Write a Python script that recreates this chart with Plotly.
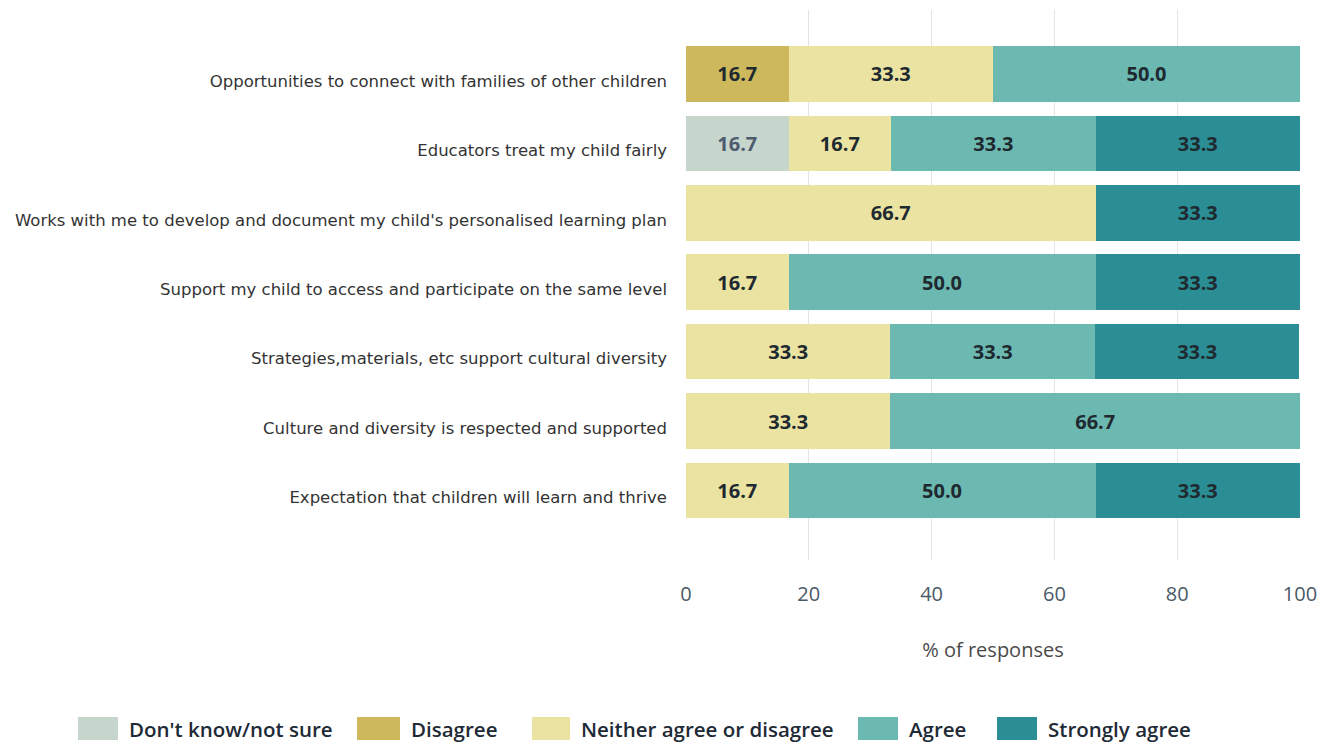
import plotly.graph_objects as go

categories = [
    "Opportunities to connect with families of other children",
    "Educators treat my child fairly",
    "Works with me to develop and document my child's personalised learning plan",
    "Support my child to access and participate on the same level",
    "Strategies,materials, etc support cultural diversity",
    "Culture and diversity is respected and supported",
    "Expectation that children will learn and thrive",
]
dont_know = [None, 16.7, None, None, None, None, None]
disagree = [16.7, None, None, None, None, None, None]
neither = [33.3, 16.7, 66.7, 16.7, 33.3, 33.3, 16.7]
agree = [50.0, 33.3, None, 50.0, 33.3, 66.7, 50.0]
strongly = [None, 33.3, 33.3, 33.3, 33.3, None, 33.3]
x_ticks = [0, 20, 40, 60, 80, 100]

series = [
    ("Don't know/not sure", dont_know, "#c6d6cd", "#4d5b6e"),
    ("Disagree", disagree, "#cdb95c", "#1e2a30"),
    ("Neither agree or disagree", neither, "#ebe3a2", "#1e2a30"),
    ("Agree", agree, "#6cb9b2", "#1e2a30"),
    ("Strongly agree", strongly, "#2b8e94", "#1e2a30"),
]

OFF = 8  # page body margin
W, H = 1338, 745
ML, MR, MT, MB = 686 - OFF, 38 + OFF, 10 - OFF, 185 + OFF
PW, PH = W - ML - MR, H - MT - MB

fig = go.Figure()
for name, vals, color, tcolor in series:
    fig.add_trace(go.Bar(
        y=categories, x=vals, name=name, orientation="h",
        marker=dict(color=color, line=dict(width=0)),
        texttemplate="%{x:.1f}", textposition="inside", insidetextanchor="middle",
        textfont=dict(family="Open Sans", size=20, color=tcolor, weight="bold"),
        constraintext="none", showlegend=False,
    ))

# custom legend (large swatches like the reference)
legend_box_left = [78, 357, 532, 858, 997]
legend_box_w = [40, 43, 38, 40, 40]
px = lambda v: (v - OFF - ML) / PW
py = lambda v: (H - MB - (v - OFF)) / PH
for (name, _, color, _), bx, bw in zip(series, legend_box_left, legend_box_w):
    fig.add_shape(type="rect", xref="paper", yref="paper",
                  x0=px(bx), x1=px(bx + bw), y0=py(740), y1=py(717),
                  fillcolor=color, line=dict(width=0))
    fig.add_annotation(xref="paper", yref="paper", x=px(bx + bw + 9), y=py(729),
                       xanchor="left", yanchor="middle", showarrow=False, text=name,
                       font=dict(family="Open Sans", size=20.5, color="#1e2a36", weight=600))

fig.update_layout(
    barmode="stack", bargap=0.2,
    width=W, height=H,
    margin=dict(l=ML, r=MR, t=MT, b=MB, autoexpand=False),
    plot_bgcolor="white", paper_bgcolor="white",
    font=dict(family="Open Sans", color="#333"),
    showlegend=False,
)
fig.update_xaxes(range=[0, 100], tickvals=x_ticks, showgrid=True, gridcolor="#e4e4e4",
                 gridwidth=1, zeroline=False, showline=False,
                 tickfont=dict(size=20, color="#4a5966"), ticklabelstandoff=20,
                 title=dict(text="% of responses", font=dict(size=20, color="#4a4a4a"), standoff=36))
fig.update_yaxes(categoryorder="array", categoryarray=categories, range=[7.0, -0.92],
                 tickfont=dict(family="DejaVu Sans", size=16.5, color="#333333"),
                 ticklabelstandoff=18, ticklabelshift=-7, showgrid=False, automargin=False)

fig.write_html("out.html")
